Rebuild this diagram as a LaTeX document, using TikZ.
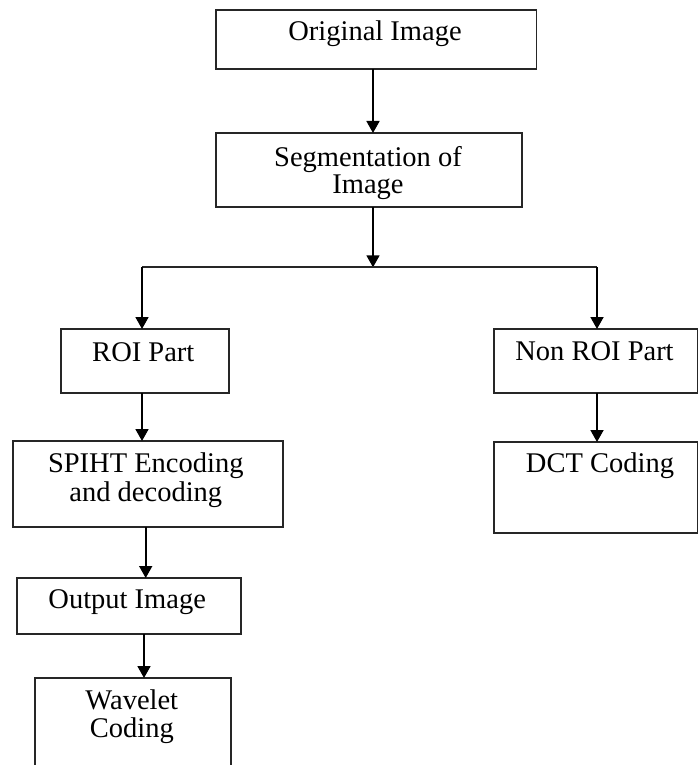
\documentclass[tikz,border=0pt]{standalone}
\usepackage{fontspec}
\setmainfont{Liberation Serif}
\usetikzlibrary{arrows.meta}
\begin{document}
\begin{tikzpicture}[x=1pt,y=-1pt,
  box/.style={draw=black!85,line width=1.8pt,rectangle,inner sep=0pt,outer sep=0pt},
  txt/.style={inner sep=0pt,anchor=base,font=\fontsize{28.5}{29}\selectfont,text=black,align=center},
  arr/.style={line width=1.8pt,draw=black,-{Triangle[width=13pt,length=12pt]}},
  conn/.style={line width=1.8pt,draw=black!85}]
\useasboundingbox (0,0) rectangle (698,765);
\clip (0,0) rectangle (698,765);
\fill[white] (0,0) rectangle (698,765);
% boxes
\node[box,minimum width=320.5pt,minimum height=59pt] (orig) at (376.25,39.5) {};
\node[box,minimum width=305.7pt,minimum height=74pt] (seg) at (368.85,170) {};
\node[box,minimum width=168pt,minimum height=64.3pt] (roi) at (144.7,361.15) {};
\node[box,minimum width=203.5pt,minimum height=64.3pt] (nroi) at (595.75,361.15) {};
\node[box,minimum width=270.6pt,minimum height=85.7pt] (spiht) at (148,483.85) {};
\node[box,minimum width=203.5pt,minimum height=90.7pt] (dct) at (595.75,487.35) {};
\node[box,minimum width=224pt,minimum height=56pt] (out) at (128.7,606) {};
\node[box,minimum width=195.4pt,minimum height=110pt] (wav) at (133,733) {};
% texts
\node[txt] (torig) at (375,41) {Original Image};
\node[txt] (tseg1) at (368,166) {Segmentation of};
\node[txt] (tseg2) at (368,193) {Image};
\node[txt] (troi) at (143.3,361) {ROI Part};
\node[txt] (tnroi) at (594.5,360.7) {Non ROI Part};
\node[txt] (tsp1) at (145.8,472.7) {SPIHT Encoding};
\node[txt] (tsp2) at (145.8,501.7) {and decoding};
\node[txt] (tdct) at (600,472.7) {DCT Coding};
\node[txt] (tout) at (127.2,608.3) {Output Image};
\node[txt] (twav1) at (131.8,709) {Wavelet};
\node[txt] (twav2) at (131.8,737) {Coding};
% connector helpers
\coordinate (jM) at (373,267.3);
\coordinate (jL) at (142,267.3);
\coordinate (jR) at (597,267.3);
\coordinate (xS) at (145.7,0);
\coordinate (xO) at (144,0);
% connectors
\draw[arr] (orig.south -| jM) -- (seg.north -| jM);
\draw[arr] (seg.south -| jM) -- (jM);
\draw[conn] (jL) -- (jR);
\draw[arr] (jL) -- (roi.north -| jL);
\draw[arr] (jR) -- (nroi.north -| jR);
\draw[arr] (roi.south -| jL) -- (spiht.north -| jL);
\draw[arr] (nroi.south -| jR) -- (dct.north -| jR);
\draw[arr] (spiht.south -| xS) -- (out.north -| xS);
\draw[arr] (out.south -| xO) -- (wav.north -| xO);
\end{tikzpicture}
\end{document}
